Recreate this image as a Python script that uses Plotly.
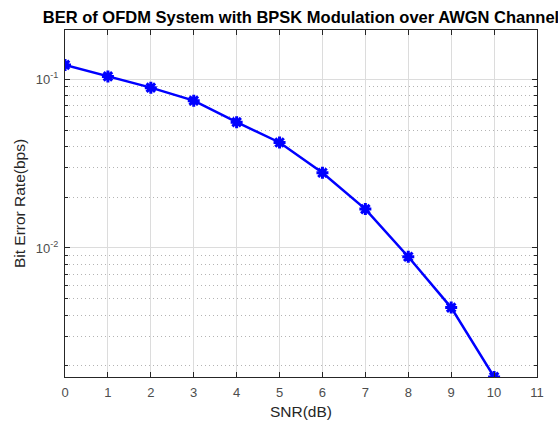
import numpy as np
import plotly.graph_objects as go

snr_db = [0, 1, 2, 3, 4, 5, 6, 7, 8, 9, 10]
ber = [0.1216, 0.104, 0.0892, 0.0747, 0.0557, 0.0422, 0.0279, 0.0170, 0.00887, 0.00443, 0.00172]

x_ticks = list(range(0, 12))
y_ticks = [0.1, 0.01]
y_ticktext = ["10<sup>-1</sup>", "10<sup>-2</sup>"]
minor_vals = [m * 10.0 ** e for e in (-3, -2, -1) for m in range(2, 10)]

FONT = "Arial, Liberation Sans, sans-serif"

fig = go.Figure()
fig.add_trace(go.Scatter(
    x=snr_db, y=ber, mode="lines+markers",
    line=dict(color="#0000ff", width=2.5),
    marker=dict(symbol="asterisk-open", size=10, color="#0000ff",
                line=dict(color="#0000ff", width=3)),
    showlegend=False,
))

fig.update_layout(
    width=558, height=423,
    margin=dict(l=65, r=21, t=30, b=46, autoexpand=False),
    paper_bgcolor="white", plot_bgcolor="white",
    font=dict(family=FONT, color="#262626"),
    title=dict(text="<b>BER of OFDM System with BPSK Modulation over AWGN Channel</b>",
               x=0.5, xref="paper", xanchor="center",
               y=1 - 17.5 / 423, yref="container", yanchor="middle",
               automargin=False,
               font=dict(family=FONT, size=16.5, color="#000000")),
)

fig.update_xaxes(
    range=[0, 11], tickmode="array", tickvals=x_ticks,
    ticks="inside", ticklen=5, tickcolor="#262626", mirror="ticks",
    showline=True, linecolor="#262626", linewidth=1,
    showgrid=True, gridcolor="#dcdcdc", gridwidth=1, zeroline=False,
    tickfont=dict(size=13, color="#4d4d4d"), ticklabelstandoff=3,
    automargin=False,
    title=dict(text="SNR(dB)", font=dict(size=15.5, color="#262626"), standoff=7),
)

fig.update_yaxes(
    type="log", range=[-2.765, -0.708],
    tickmode="array", tickvals=y_ticks, ticktext=y_ticktext,
    ticks="inside", ticklen=5, tickcolor="#262626", mirror="ticks",
    showline=True, linecolor="#262626", linewidth=1,
    showgrid=True, gridcolor="#dcdcdc", gridwidth=1, zeroline=False,
    tickfont=dict(size=13, color="#4d4d4d"), ticklabelstandoff=3,
    automargin=False,
    minor=dict(tickmode="array", tickvals=minor_vals, ticks="inside", ticklen=3,
               tickcolor="#262626", showgrid=True, gridcolor="#b4b4b4",
               griddash="1px,3px", gridwidth=1),
    title=dict(text="Bit Error Rate(bps)", font=dict(size=15.5, color="#262626"), standoff=6),
)

fig.write_html(
    "out.html",
    config={"displayModeBar": False},
    post_script="document.body.style.margin='0';document.body.style.overflow='hidden';",
)
